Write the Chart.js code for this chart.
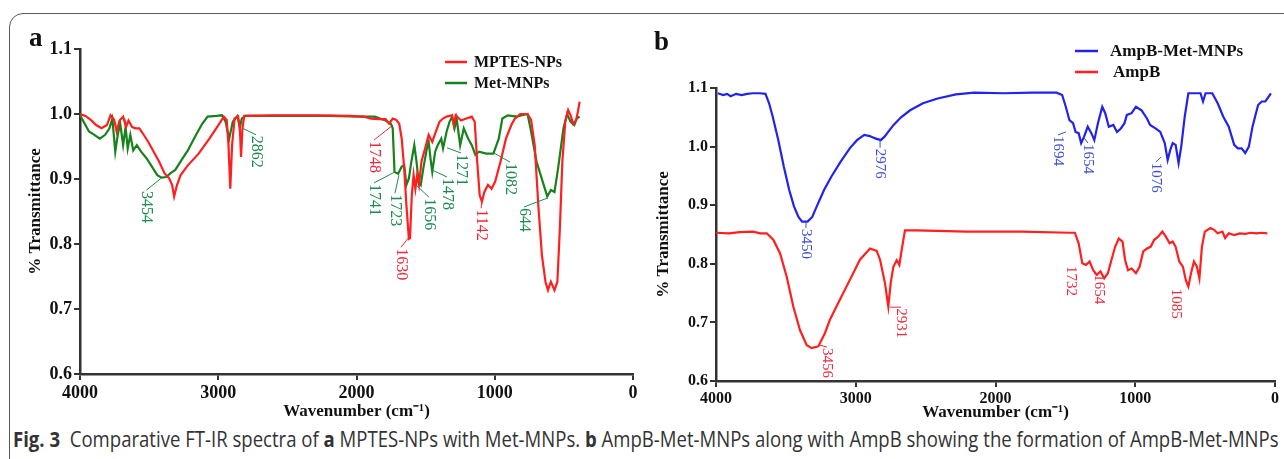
<!DOCTYPE html>
<html>
<head>
<meta charset="utf-8">
<script src="https://cdn.jsdelivr.net/npm/chart.js@4.4.1/dist/chart.umd.min.js"></script>
<style>
body{margin:0;background:#fff;width:1284px;height:459px;overflow:hidden;position:relative;}
#frame{position:absolute;left:9px;top:13px;width:1300px;height:470px;border:1.5px solid #5a5a5a;border-radius:14px;}
canvas{position:absolute;top:0;}
#ca{left:0;}
#cb{left:640px;}
.tag{position:absolute;font:bold 27px "Liberation Serif";color:#111;}
#caption{position:absolute;left:13px;top:429px;white-space:nowrap;font:21px "Open Sans";line-height:21px;color:#333;transform-origin:left top;}
</style>
</head>
<body>
<div id="frame"></div>
<canvas id="ca" width="645" height="425"></canvas>
<canvas id="cb" width="644" height="425"></canvas>
<div class="tag" style="left:29px;top:22px">a</div>
<div class="tag" style="left:654px;top:26px">b</div>
<div id="caption"><b>Fig. 3</b>&nbsp; Comparative FT-IR spectra of <b>a</b> MPTES-NPs with Met-MNPs. <b>b</b> AmpB-Met-MNPs along with AmpB showing the formation of AmpB-Met-MNPs</div>
<script>
// [wavenumber, transmittance]
const mptesNPs = [[4000,1.0],[3961,0.997],[3922,0.991],[3883,0.983],[3844,0.978],[3805,0.983],[3779,0.998],[3753,0.991],[3735,0.973],[3714,0.99],[3688,0.996],[3667,0.98],[3649,0.99],[3623,0.98],[3597,0.978],[3571,0.978],[3545,0.97],[3506,0.957],[3467,0.942],[3428,0.927],[3389,0.909],[3355,0.901],[3334,0.891],[3319,0.873],[3298,0.891],[3272,0.906],[3220,0.921],[3142,0.939],[3064,0.962],[2999,0.983],[2960,0.996],[2939,0.991],[2926,0.952],[2913,0.885],[2900,0.952],[2882,0.993],[2856,0.996],[2843,0.973],[2835,0.934],[2825,0.978],[2812,0.997],[2600,0.998],[2300,0.998],[2050,0.997],[1946,0.996],[1894,0.993],[1842,0.992],[1790,0.992],[1764,0.985],[1738,0.993],[1712,0.991],[1691,0.985],[1673,0.962],[1655,0.916],[1639,0.86],[1621,0.808],[1613,0.809],[1600,0.875],[1587,0.906],[1574,0.885],[1561,0.906],[1548,0.891],[1530,0.927],[1504,0.947],[1478,0.968],[1452,0.957],[1426,0.973],[1400,0.988],[1374,0.993],[1348,0.996],[1309,0.998],[1296,0.983],[1283,0.998],[1244,0.99],[1205,0.993],[1166,0.996],[1145,0.988],[1127,0.927],[1109,0.875],[1093,0.865],[1075,0.88],[1049,0.891],[1023,0.885],[997,0.896],[958,0.927],[919,0.962],[880,0.983],[854,0.993],[815,1.0],[763,1.0],[737,0.991],[711,0.952],[685,0.86],[659,0.783],[633,0.742],[615,0.729],[594,0.742],[568,0.729],[547,0.742],[529,0.824],[511,0.927],[490,0.988],[469,1.006],[451,0.998],[433,0.985],[412,0.99],[399,1.003],[386,1.019]];
const metMNPs = [[4000,0.998],[3974,0.988],[3935,0.973],[3896,0.968],[3857,0.962],[3818,0.968],[3787,0.978],[3766,0.993],[3745,0.942],[3727,0.968],[3709,0.985],[3688,0.952],[3670,0.98],[3655,0.947],[3636,0.968],[3615,0.944],[3589,0.952],[3558,0.942],[3519,0.932],[3480,0.919],[3441,0.906],[3410,0.902],[3376,0.903],[3345,0.909],[3311,0.914],[3272,0.927],[3220,0.944],[3168,0.965],[3116,0.985],[3077,0.996],[3012,0.997],[2973,0.998],[2947,0.988],[2921,0.962],[2895,0.988],[2861,0.997],[2843,0.98],[2830,0.993],[2804,0.997],[2500,0.997],[2200,0.997],[1972,0.996],[1868,0.996],[1790,0.99],[1751,0.985],[1738,0.978],[1725,0.911],[1699,0.908],[1673,0.919],[1655,0.921],[1639,0.891],[1621,0.901],[1603,0.927],[1582,0.952],[1566,0.927],[1551,0.896],[1535,0.891],[1517,0.916],[1491,0.947],[1478,0.957],[1465,0.932],[1452,0.911],[1431,0.942],[1413,0.952],[1387,0.962],[1374,0.947],[1348,0.973],[1327,0.988],[1309,0.996],[1291,0.978],[1276,0.993],[1250,0.952],[1224,0.978],[1192,0.962],[1166,0.952],[1140,0.937],[1114,0.942],[1062,0.939],[1010,0.939],[971,0.962],[945,0.993],[906,0.998],[841,0.996],[802,0.998],[763,1.0],[737,0.973],[698,0.927],[646,0.891],[620,0.873],[594,0.883],[568,0.88],[542,0.916],[503,0.978],[477,1.0],[451,0.988],[425,0.983],[407,0.993],[386,0.996]];
const ampBMetMNPs = [[3987,1.091],[3948,1.088],[3921,1.09],[3895,1.086],[3856,1.09],[3817,1.088],[3777,1.09],[3738,1.091],[3685,1.091],[3646,1.09],[3620,1.074],[3594,1.051],[3554,1.011],[3515,0.966],[3476,0.926],[3442,0.898],[3410,0.88],[3384,0.872],[3345,0.872],[3311,0.88],[3279,0.898],[3227,0.926],[3174,0.949],[3109,0.974],[3043,0.997],[2991,1.011],[2939,1.02],[2899,1.018],[2860,1.014],[2821,1.011],[2794,1.017],[2768,1.025],[2729,1.037],[2676,1.05],[2611,1.062],[2519,1.074],[2414,1.082],[2283,1.089],[2152,1.092],[1943,1.091],[1733,1.092],[1563,1.092],[1523,1.088],[1497,1.068],[1471,1.045],[1445,1.04],[1427,1.025],[1405,1.023],[1387,1.006],[1366,1.017],[1340,1.034],[1314,1.023],[1293,1.011],[1267,1.04],[1236,1.068],[1215,1.057],[1189,1.034],[1157,1.037],[1130,1.025],[1103,1.031],[1077,1.04],[1060,1.054],[1026,1.057],[995,1.068],[955,1.062],[916,1.048],[894,1.037],[855,1.031],[821,1.025],[789,1.006],[768,0.977],[750,0.994],[732,1.006],[711,1.003],[690,0.972],[671,1.0],[646,1.051],[620,1.091],[567,1.091],[533,1.091],[515,1.077],[497,1.091],[449,1.091],[410,1.074],[370,1.051],[331,1.034],[292,1.003],[266,0.997],[239,0.997],[213,0.989],[187,1.0],[161,1.034],[121,1.071],[95,1.077],[69,1.077],[29,1.091]];
const ampB = [[4000,0.853],[3908,0.852],[3830,0.854],[3735,0.855],[3685,0.852],[3637,0.852],[3590,0.841],[3542,0.818],[3494,0.778],[3447,0.727],[3399,0.687],[3351,0.661],[3315,0.656],[3268,0.659],[3220,0.682],[3184,0.705],[3113,0.739],[3041,0.773],[2970,0.807],[2898,0.826],[2850,0.822],[2826,0.807],[2791,0.767],[2767,0.727],[2750,0.767],[2731,0.795],[2707,0.806],[2688,0.798],[2671,0.824],[2648,0.857],[2564,0.857],[2205,0.855],[1811,0.855],[1471,0.853],[1432,0.853],[1405,0.835],[1379,0.801],[1353,0.798],[1327,0.804],[1301,0.789],[1275,0.781],[1249,0.787],[1222,0.775],[1196,0.784],[1170,0.807],[1144,0.829],[1118,0.843],[1091,0.838],[1073,0.807],[1052,0.789],[1026,0.792],[995,0.784],[969,0.795],[943,0.821],[916,0.826],[890,0.829],[864,0.841],[838,0.846],[806,0.855],[780,0.846],[754,0.835],[732,0.838],[711,0.829],[685,0.804],[659,0.795],[638,0.772],[620,0.761],[601,0.784],[580,0.804],[559,0.795],[541,0.775],[523,0.829],[502,0.855],[462,0.861],[436,0.858],[410,0.852],[376,0.855],[357,0.844],[331,0.852],[292,0.849],[252,0.852],[213,0.851],[174,0.853],[134,0.852],[95,0.853],[55,0.852]];

const RED = '#ff1f1f', GREEN = '#17821c', BLUE = '#2222ee';
const RED_T = '#ee2a3a', GREEN_T = '#1d8a50', BLUE_T = '#3d4fd8';

// peak labels: text, label wavenumber, label T, leader from wavenumber, leader from T, colour
const peaksA = [
  ['2862', 2727, 0.968, 2824, 0.978, GREEN_T],
  ['3454', 3519, 0.883, 3414, 0.901, GREEN_T],
  ['1748', 1873, 0.960, 1736, 0.983, RED_T],
  ['1741', 1873, 0.894, 1721, 0.911, GREEN_T],
  ['1723', 1722, 0.878, 1693, 0.906, GREEN_T],
  ['1656', 1476, 0.872, 1570, 0.891, GREEN_T],
  ['1478', 1345, 0.903, 1454, 0.914, GREEN_T],
  ['1271', 1244, 0.940, 1345, 0.948, GREEN_T],
  ['1630', 1678, 0.795, 1627, 0.809, RED_T],
  ['1142', 1099, 0.855, 1092, 0.868, RED_T],
  ['1082', 890, 0.926, 1005, 0.940, GREEN_T],
  ['644', 788, 0.857, 615, 0.871, GREEN_T]
];
const peaksB = [
  ['2976', 2826, 0.998, 2826, 1.011, BLUE_T],
  ['3450', 3356, 0.861, 3356, 0.871, BLUE_T],
  ['1694', 1553, 1.020, 1496, 1.025, BLUE_T],
  ['1654', 1338, 1.006, 1367, 1.015, BLUE_T],
  ['1076', 852, 0.974, 816, 0.982, BLUE_T],
  ['3456', 3206, 0.658, 3256, 0.661, RED_T],
  ['2931', 2676, 0.726, 2755, 0.726, RED_T],
  ['1732', 1460, 0.798, null, null, RED_T],
  ['1654', 1259, 0.784, 1295, 0.783, RED_T],
  ['1085', 708, 0.759, null, null, RED_T]
];

const xTicks = [0, 1000, 2000, 3000, 4000];
const yTicks = [0.6, 0.7, 0.8, 0.9, 1.0, 1.1];

function toXY(arr) {
  return arr.map(p => ({x: p[0], y: p[1]}));
}

function peakPlugin(items, font) {
  return {
    id: 'peaks',
    afterDatasetsDraw(chart) {
      const ctx = chart.ctx, x = chart.scales.x, y = chart.scales.y;
      ctx.save();
      ctx.font = font;
      ctx.lineWidth = 1;
      items.forEach(p => {
        const px = x.getPixelForValue(p[1]), py = y.getPixelForValue(p[2]);
        ctx.strokeStyle = p[5];
        ctx.fillStyle = p[5];
        if (p[3] != null) {
          ctx.beginPath();
          ctx.moveTo(x.getPixelForValue(p[3]), y.getPixelForValue(p[4]));
          ctx.lineTo(px, py);
          ctx.stroke();
        }
        ctx.save();
        ctx.translate(px, py);
        ctx.rotate(Math.PI / 2);
        ctx.textAlign = 'left';
        ctx.textBaseline = 'middle';
        ctx.fillText(p[0], 1, 0);
        ctx.restore();
      });
      ctx.restore();
    }
  };
}

function legendPlugin(pos, font) {
  return {
    id: 'legendBox',
    afterDraw(chart) {
      const ctx = chart.ctx;
      ctx.save();
      ctx.font = font;
      ctx.textBaseline = 'middle';
      chart.data.datasets.forEach((ds, i) => {
        const p = pos[i];
        ctx.strokeStyle = ds.borderColor;
        ctx.lineWidth = 2.5;
        ctx.beginPath();
        ctx.moveTo(p[0], p[2]);
        ctx.lineTo(p[1], p[2]);
        ctx.stroke();
        ctx.fillStyle = '#111';
        ctx.fillText(ds.label, p[3], p[2] + 1);
      });
      ctx.restore();
    }
  };
}

function makePanel(id, series, geo) {
  const axisFont = {family: 'Liberation Serif', weight: 'bold', size: geo.tickSize};
  const titleFont = {family: 'Liberation Serif', weight: 'bold', size: geo.titleSize};
  return new Chart(document.getElementById(id), {
    type: 'line',
    data: {
      datasets: series.map(s => ({
        label: s.label,
        data: toXY(s.data),
        borderColor: s.color,
        borderWidth: 2.2,
        pointRadius: 0,
        tension: 0,
        fill: false
      }))
    },
    options: {
      responsive: false,
      animation: false,
      layout: {autoPadding: false, padding: {top: geo.top, right: geo.right, left: 0, bottom: 0}},
      plugins: {legend: {display: false}, tooltip: {enabled: false}},
      scales: {
        x: {
          type: 'linear', reverse: true, min: 0, max: 4000,
          afterBuildTicks: s => { s.ticks = xTicks.map(v => ({value: v})); },
          ticks: {color: '#111', font: axisFont, padding: geo.xPad, maxRotation: 0, callback: v => String(v)},
          grid: {drawOnChartArea: false, drawTicks: true, tickLength: 6, color: '#333', lineWidth: 2},
          border: {display: true, color: '#333', width: 2.5},
          title: {display: true, text: 'Wavenumber (cm⁻¹)', color: '#111', font: titleFont, padding: {top: 0, bottom: geo.xTitlePad}},
          afterFit: s => { s.height = geo.xHeight; }
        },
        y: {
          min: 0.6, max: 1.1,
          afterBuildTicks: s => { s.ticks = yTicks.map(v => ({value: v})); },
          ticks: {color: '#111', font: axisFont, padding: 2, callback: v => v.toFixed(1)},
          grid: {drawOnChartArea: false, drawTicks: true, tickLength: 6, color: '#333', lineWidth: 2},
          border: {display: true, color: '#333', width: 2.5},
          title: {display: true, text: '% Transmittance', color: '#111', font: titleFont, padding: {top: geo.yTitlePad, bottom: 0}},
          afterFit: s => { s.width = geo.yWidth; }
        }
      }
    },
    plugins: [peakPlugin(geo.peaks, geo.peakFont), legendPlugin(geo.legend, geo.legendFont)]
  });
}

makePanel('ca', [
  {label: 'MPTES-NPs', data: mptesNPs, color: RED},
  {label: 'Met-MNPs', data: metMNPs, color: GREEN}
], {
  top: 49, right: 12, yWidth: 80, xHeight: 51, tickSize: 18, titleSize: 17,
  xPad: 3, xTitlePad: 3, yTitlePad: 25,
  peaks: peaksA, peakFont: '16px "Liberation Serif"',
  legend: [[445, 467, 62, 474], [445, 467, 83, 474]], legendFont: 'bold 16px "Liberation Serif"'
});

makePanel('cb', [
  {label: 'AmpB-Met-MNPs', data: ampBMetMNPs, color: BLUE},
  {label: 'AmpB', data: ampB, color: RED}
], {
  top: 88, right: 9, yWidth: 76, xHeight: 44, tickSize: 16, titleSize: 17,
  xPad: 2, xTitlePad: 2, yTitlePad: 13,
  peaks: peaksB, peakFont: '15px "Liberation Serif"',
  legend: [[435, 458, 51, 470], [435, 458, 72, 473]], legendFont: 'bold 17px "Liberation Serif"'
});

const cap = document.getElementById('caption');
cap.style.transform = 'scaleX(' + (1266 / cap.scrollWidth) + ')';
</script>
</body>
</html>
